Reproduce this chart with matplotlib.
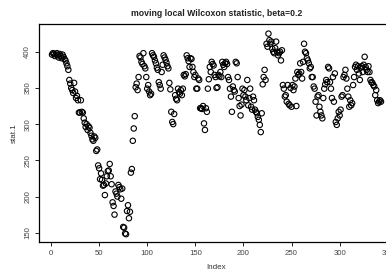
import matplotlib
matplotlib.use("Agg")
import matplotlib.pyplot as plt
import numpy as np

stat1 = [
    396, 398, 397, 394, 396, 398, 395, 392, 397, 394,
    391, 396, 393, 390, 388, 384, 380, 375, 361, 356,
    350, 347, 343, 357, 345, 336, 339, 333, 316, 316,
    333, 317, 316, 308, 302, 296, 300, 292, 297, 295,
    288, 284, 279, 277, 283, 281, 263, 265, 243, 239,
    224, 232, 223, 215, 216, 202, 218, 228, 235, 236,
    245, 228, 217, 192, 187, 175, 207, 204, 200, 216,
    213, 210, 197, 211, 158, 157, 149, 148, 180, 188,
    170, 179, 233, 238, 277, 294, 311,
    351, 356, 347, 365,
    394, 392, 386, 383,
    398, 380, 377, 365, 349,
    354, 345, 340, 342,
    398, 395, 393, 388, 384,
    378, 375, 358, 354,
    349, 372, 382,
    395, 392, 389, 385, 380,
    377, 357, 348, 317,
    303, 300, 314, 340, 335,
    333, 349, 344, 342, 347, 340,
    349, 368, 366, 369,
    395, 391, 387, 379, 391,
    390, 379, 372, 365, 368,
    349, 349, 363, 361, 322,
    322, 321, 325, 301, 292,
    322, 317, 349, 362,
    379, 372, 386, 383, 381,
    368, 365, 350, 351, 368, 366, 372,
    365, 386, 382, 379, 384, 386, 383,
    365, 361, 349, 338, 317,
    352, 347, 345, 386, 384, 365,
    336, 325, 312, 327,
    349, 340, 347, 338, 333, 361, 326, 336, 349,
    324, 320, 338, 333, 320,
    317, 315, 310, 306, 299, 289,
    315, 355, 365,
    375, 361, 411, 407, 425,
    416, 411, 414, 404, 400, 398, 405, 414, 400, 395,
    398, 400, 388, 402,
    354, 349, 338, 340, 331, 354, 328, 326, 350, 324,
    354, 347, 352, 363, 325, 372, 368, 370, 384, 372,
    363, 386, 411,
    400, 398, 391, 388, 384, 377, 379, 365, 365, 352, 349,
    331, 312, 338, 340, 324, 317, 312, 308, 336,
    349, 355, 361, 358, 379, 377, 358, 349, 336, 365,
    331, 370, 303, 299, 308, 317, 312, 320, 338, 340,
    365, 368, 375, 363, 349, 338, 324, 333, 326, 329,
    354, 365, 379, 382, 375, 380, 370, 361, 378, 380,
    372, 382, 393, 379, 375, 372, 380, 372, 361, 358,
    357, 354, 352, 340, 347, 333, 329, 331, 333, 331,
]
index = np.arange(1, len(stat1) + 1)

title = "moving local Wilcoxon statistic, beta=0.2"
xticks = [0, 50, 100, 150, 200, 250, 300, 350]
yticks = [150, 200, 250, 300, 350, 400]

plt.rcParams['font.family'] = ['Liberation Sans', 'DejaVu Sans']

fig = plt.figure(figsize=(3.86, 2.72), dpi=100)
W, H = 386, 272
left, right, top, bottom = 39, 394, 24, 242
ax = fig.add_axes([left / W, (H - bottom) / H, (right - left) / W, (bottom - top) / H])

ax.scatter(index, stat1, s=15, facecolors='none', edgecolors='black', linewidths=0.8)

ax.set_xlim(-12.5, 356.5)
ax.set_ylim(137.2, 438.3)
ax.set_xticks(xticks)
ax.set_yticks(yticks)
ax.set_xticklabels([str(t) for t in xticks])
ax.set_yticklabels([str(t) for t in yticks], rotation=90, va='center')
ax.tick_params(axis='both', length=3, width=0.6, labelsize=5.6, colors='#444444', pad=2.5)
ax.tick_params(axis='both', color='black')
for sp in ax.spines.values():
    sp.set_linewidth(0.9)
    sp.set_color('black')

ax.set_xlabel("Index", fontsize=5.8, color='#333333', labelpad=5)
ax.set_ylabel("stat.1", fontsize=5.8, color='#333333', labelpad=5)
fig.text((left + right) / 2 / W, 1 - 13 / H, title, ha='center', va='center',
         fontsize=6.3, fontweight='bold', color='#222222')

fig.savefig("out.png", dpi=100)
